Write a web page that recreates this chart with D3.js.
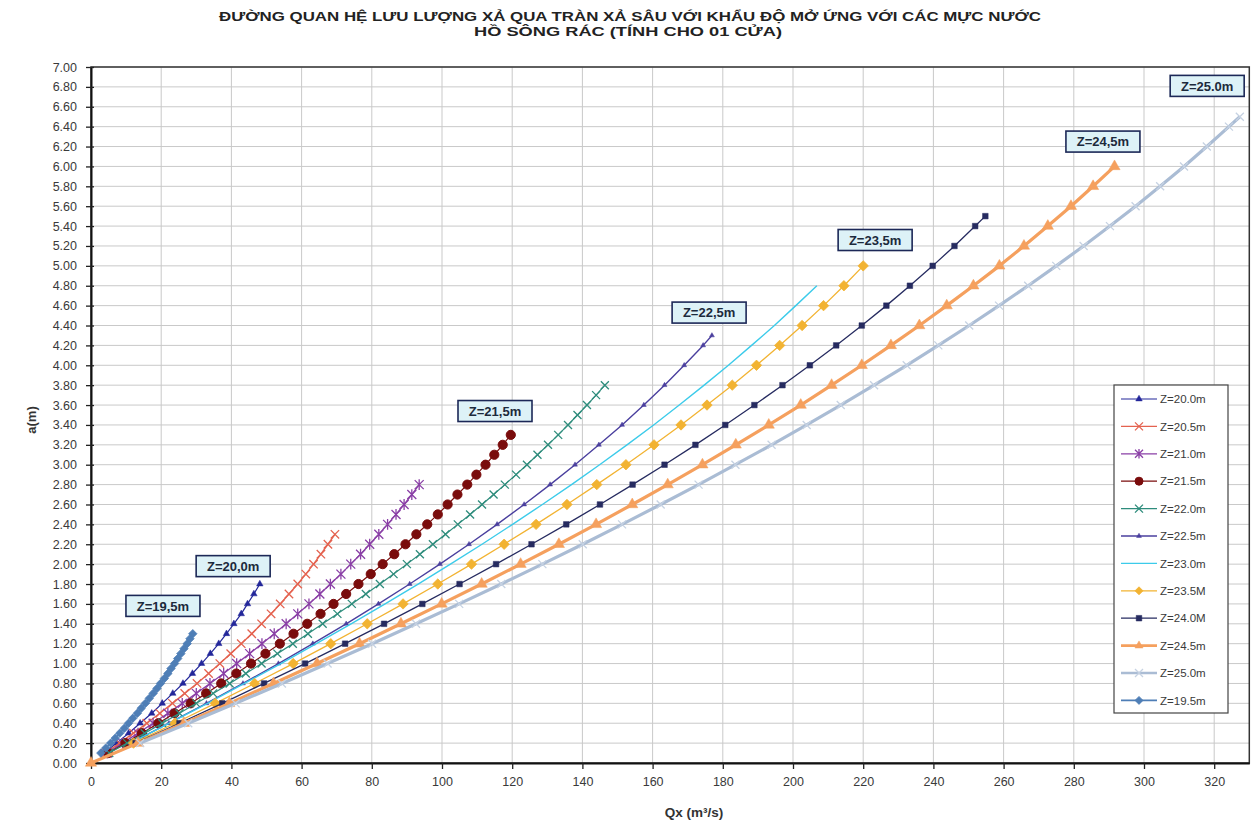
<!DOCTYPE html>
<html><head><meta charset="utf-8">
<script src="https://cdn.jsdelivr.net/npm/d3@7"></script>
<style>body{margin:0;background:#fff}svg{display:block}</style>
</head><body>
<svg id="c" width="1259" height="825"></svg>
<script>
// ---------- DATA ----------
const titleLines = ["ĐƯỜNG QUAN HỆ LƯU LƯỢNG XẢ QUA TRÀN XẢ SÂU VỚI KHẨU ĐỘ MỞ ỨNG VỚI CÁC MỰC NƯỚC",
                    "HỒ SÔNG RÁC (TÍNH CHO 01 CỬA)"];
const xLabel = "Qx (m³/s)";
const yLabel = "a(m)";
const xTicks = [0,20,40,60,80,100,120,140,160,180,200,220,240,260,280,300,320];
const yTicks = [0,0.2,0.4,0.6,0.8,1.0,1.2,1.4,1.6,1.8,2.0,2.2,2.4,2.6,2.8,3.0,3.2,3.4,3.6,3.8,4.0,4.2,4.4,4.6,4.8,5.0,5.2,5.4,5.6,5.8,6.0,6.2,6.4,6.6,6.8,7.0];

const legendLabels = ["Z=20.0m","Z=20.5m","Z=21.0m","Z=21.5m","Z=22.0m","Z=22.5m","Z=23.0m","Z=23.5M","Z=24.0M","Z=24.5m","Z=25.0m","Z=19.5m"];

const a200 = [0.1,0.2,0.3,0.4,0.5,0.6,0.7,0.8,0.9,1.0,1.1,1.2,1.3,1.4,1.5,1.6,1.7,1.8];
const q200 = [3.7,7.3,10.7,14.0,17.3,20.3,23.3,26.2,28.9,31.5,34.0,36.4,38.6,40.7,42.8,44.6,46.4,48.1];

const a205 = [0.1,0.2,0.3,0.4,0.5,0.6,0.7,0.8,0.9,1.0,1.1,1.2,1.3,1.4,1.5,1.6,1.7,1.8,1.9,2.0,2.1,2.2,2.3];
const q205 = [4.1,8.1,12.1,15.9,19.6,23.2,26.7,30.2,33.5,36.7,39.8,42.8,45.8,48.6,51.3,53.9,56.4,58.9,61.2,63.4,65.5,67.5,69.5];

const a210 = [0.1,0.2,0.3,0.4,0.5,0.6,0.7,0.8,0.9,1.0,1.1,1.2,1.3,1.4,1.5,1.6,1.7,1.8,1.9,2.0,2.1,2.2,2.3,2.4,2.5,2.6,2.7,2.8];
const q210 = [4.6,9.0,13.4,17.7,21.9,26.0,30.0,33.9,37.8,41.5,45.2,48.7,52.2,55.6,58.9,62.1,65.2,68.2,71.2,74.0,76.8,79.4,82.0,84.5,86.9,89.2,91.4,93.5];

const a215 = [0.1,0.2,0.3,0.4,0.5,0.6,0.7,0.8,0.9,1.0,1.1,1.2,1.3,1.4,1.5,1.6,1.7,1.8,1.9,2.0,2.1,2.2,2.3,2.4,2.5,2.6,2.7,2.8,2.9,3.0,3.1,3.2,3.3];
const q215 = [4.9,9.8,14.5,19.2,23.8,28.4,32.8,37.1,41.4,45.6,49.7,53.8,57.7,61.6,65.4,69.1,72.7,76.2,79.7,83.1,86.4,89.6,92.7,95.8,98.8,101.6,104.4,107.2,109.8,112.4,114.9,117.3,119.6];

const a220 = [0.1,0.2,0.3,0.4,0.5,0.6,0.7,0.8,0.9,1.0,1.1,1.2,1.3,1.4,1.5,1.6,1.7,1.8,1.9,2.0,2.1,2.2,2.3,2.4,2.5,2.6,2.7,2.8,2.9,3.0,3.1,3.2,3.3,3.4,3.5,3.6,3.7,3.8];
const q220 = [5.2,10.3,15.3,20.3,25.2,30.0,34.8,39.5,44.1,48.6,53.1,57.5,61.8,66.0,70.2,74.3,78.3,82.3,86.2,90.0,93.7,97.4,101.0,104.5,108.0,111.4,114.7,117.9,121.1,124.2,127.2,130.2,133.1,135.9,138.6,141.3,143.9,146.4];

const a225 = [0.2,0.4,0.6,0.8,1.0,1.2,1.4,1.6,1.8,2.0,2.2,2.4,2.6,2.8,3.0,3.2,3.4,3.6,3.8,4.0,4.2,4.3];
const q225 = [11.3,22.2,32.9,43.3,53.4,63.2,72.7,81.9,90.8,99.4,107.7,115.7,123.4,130.8,137.9,144.7,151.3,157.5,163.4,169.0,174.4,176.9];

const a230 = [0.2,0.4,0.6,0.8,1.0,1.2,1.4,1.6,1.8,2.0,2.2,2.4,2.6,2.8,3.0,3.2,3.4,3.6,3.8,4.0,4.2,4.4,4.6,4.8];
const q230 = [11.3,22.3,33.2,43.7,54.1,64.2,74.1,83.8,93.2,102.4,111.4,120.1,128.6,136.9,144.9,152.7,160.3,167.6,174.7,181.6,188.2,194.7,200.8,206.8];

const a235 = [0.2,0.4,0.6,0.8,1.0,1.2,1.4,1.6,1.8,2.0,2.2,2.4,2.6,2.8,3.0,3.2,3.4,3.6,3.8,4.0,4.2,4.4,4.6,4.8,5.0];
const q235 = [12.1,23.9,35.4,46.6,57.6,68.3,78.7,88.9,98.8,108.4,117.7,126.8,135.6,144.1,152.4,160.4,168.1,175.5,182.7,189.6,196.2,202.6,208.7,214.5,220.0];

const a240 = [0.2,0.4,0.6,0.8,1.0,1.2,1.4,1.6,1.8,2.0,2.2,2.4,2.6,2.8,3.0,3.2,3.4,3.6,3.8,4.0,4.2,4.4,4.6,4.8,5.0,5.2,5.4,5.5];
const q240 = [12.7,25.2,37.4,49.3,61.0,72.4,83.5,94.4,105.0,115.4,125.5,135.4,145.0,154.3,163.4,172.2,180.7,189.0,197.0,204.8,212.3,219.6,226.6,233.3,239.8,246.0,251.9,254.8];

const a245 = [0,0.2,0.4,0.6,0.8,1.0,1.2,1.4,1.6,1.8,2.0,2.2,2.4,2.6,2.8,3.0,3.2,3.4,3.6,3.8,4.0,4.2,4.4,4.6,4.8,5.0,5.2,5.4,5.6,5.8,6.0];
const q245 = [0,13.4,26.5,39.4,52.0,64.4,76.5,88.3,99.9,111.3,122.4,133.3,143.9,154.2,164.3,174.2,183.7,193.1,202.2,211.0,219.6,227.9,236.0,243.8,251.4,258.8,265.8,272.6,279.2,285.5,291.6];

const a250 = [0.2,0.4,0.6,0.8,1.0,1.2,1.4,1.6,1.8,2.0,2.2,2.4,2.6,2.8,3.0,3.2,3.4,3.6,3.8,4.0,4.2,4.4,4.6,4.8,5.0,5.2,5.4,5.6,5.8,6.0,6.2,6.4,6.5];
const q250 = [14.0,27.7,41.2,54.4,67.4,80.1,92.6,104.9,116.9,128.6,140.1,151.3,162.3,173.1,183.6,193.9,203.9,213.6,223.1,232.4,241.4,250.2,258.7,267.0,275.0,282.8,290.3,297.6,304.6,311.4,317.9,324.2,327.3];

const a195 = [0.10,0.15,0.20,0.25,0.30,0.35,0.40,0.45,0.50,0.55,0.60,0.65,0.70,0.75,0.80,0.85,0.90,0.95,1.00,1.05,1.10,1.15,1.20,1.25,1.30];
const q195 = [2.8,4.2,5.6,6.9,8.2,9.5,10.7,11.9,13.2,14.3,15.5,16.6,17.7,18.8,19.8,20.9,21.9,22.8,23.8,24.7,25.6,26.5,27.4,28.2,29.0];

const annoText = ["Z=19,5m","Z=20,0m","Z=21,5m","Z=22,5m","Z=23,5m","Z=24,5m","Z=25.0m"];
const annoQ = [20.5,40.5,115.1,176.1,223.4,288.3,318.0];
const annoA = [1.58,1.98,3.54,4.53,5.26,6.25,6.81];

// ---------- STYLE ----------
const styles = [
  {color:"#23279A", w:1.2, m:"triangle", ms:3.2},
  {color:"#E4624F", w:1.4, m:"x", ms:4.2},
  {color:"#8A3FA6", w:1.3, m:"star", ms:4.5},
  {color:"#7A0C0C", w:1.2, m:"circle", ms:4.6},
  {color:"#2E8C7C", w:1.2, m:"x", ms:4},
  {color:"#4A3F9E", w:1.4, m:"triangle", ms:2.4},
  {color:"#3CCBEA", w:1.4, m:"none", ms:0},
  {color:"#F2B332", w:1.3, m:"diamond", ms:5.2},
  {color:"#262B60", w:1.3, m:"square", ms:2.8},
  {color:"#F5A05E", w:3.2, m:"triangle", ms:5.5},
  {color:"#AABCD4", w:3.2, m:"xlight", ms:4},
  {color:"#4E7EB6", w:1.6, m:"diamond", ms:4.2}
];
const aArr = [a200,a205,a210,a215,a220,a225,a230,a235,a240,a245,a250,a195];
const qArr = [q200,q205,q210,q215,q220,q225,q230,q235,q240,q245,q250,q195];

// ---------- CHART ----------
const svg = d3.select("#c");
const x = d3.scaleLinear().domain([0,330]).range([91,1249.3]);
const y = d3.scaleLinear().domain([0,7]).range([763,67]);
const FONT = "'Liberation Sans', Arial, sans-serif";

svg.append("rect").attr("width",1259).attr("height",825).attr("fill","#fff");

// gridlines
const grid = svg.append("g");
grid.selectAll(".hg").data(yTicks.filter(d=>d>0)).join("line")
  .attr("x1",x(0)).attr("x2",x(330)).attr("y1",d=>y(d)).attr("y2",d=>y(d))
  .attr("stroke","#C9C9C9").attr("stroke-width",1);
grid.selectAll(".vg").data(xTicks.filter(d=>d>0)).join("line")
  .attr("x1",d=>x(d)).attr("x2",d=>x(d)).attr("y1",y(0)).attr("y2",y(7))
  .attr("stroke","#C9C9C9").attr("stroke-width",1);

// plot frame
svg.append("rect").attr("x",x(0)).attr("y",y(7)).attr("width",x(330)-x(0)).attr("height",y(0)-y(7))
  .attr("fill","none").attr("stroke","#333").attr("stroke-width",1.5);

// axes
const xAxis = svg.append("g").attr("transform",`translate(0,${y(0)})`)
  .call(d3.axisBottom(x).tickValues(xTicks).tickSize(6).tickPadding(8).tickSizeOuter(0));
const yAxis = svg.append("g").attr("transform",`translate(${x(0)},0)`)
  .call(d3.axisLeft(y).tickValues(yTicks).tickFormat(d3.format(".2f")).tickSize(5).tickPadding(9).tickSizeOuter(0));
[xAxis,yAxis].forEach(g=>{
  g.select(".domain").attr("stroke","#111").attr("stroke-width",2);
  g.selectAll(".tick line").attr("stroke","#222").attr("stroke-width",1.3);
  g.selectAll(".tick text").attr("fill","#3a3a3a").style("font-family",FONT).style("font-size","12.5px");
});
yAxis.selectAll(".tick line").attr("x1",3);

// markers
function marker(g, type, s, color){
  if(type==="none") return;
  if(type==="circle"){ g.append("circle").attr("r",s).attr("fill",color).attr("stroke",color); return; }
  if(type==="x" || type==="xlight"){
    g.append("path").attr("d",`M${-s},${-s}L${s},${s}M${-s},${s}L${s},${-s}`)
      .attr("stroke", type==="xlight" ? "#C6D2E2" : color).attr("stroke-width",1.3).attr("fill","none"); return; }
  if(type==="star"){
    g.append("path").attr("d",`M${-s},${-s}L${s},${s}M${-s},${s}L${s},${-s}M0,${-s*1.2}L0,${s*1.2}`)
      .attr("stroke",color).attr("stroke-width",1.3).attr("fill","none"); return; }
  if(type==="diamond"){
    g.append("path").attr("d",`M0,${-s}L${s},0L0,${s}L${-s},0Z`).attr("fill",color).attr("stroke",color).attr("stroke-width",0.8).attr("stroke-linejoin","round"); return; }
  let sym = type==="triangle" ? d3.symbolTriangle : d3.symbolSquare;
  let area = type==="triangle" ? s*s*1.8 : s*s*4;
  g.append("path").attr("d",d3.symbol().type(sym).size(area)()).attr("fill",color).attr("stroke",color).attr("stroke-width",0.5);
}

const line = d3.line().x(d=>x(d[0])).y(d=>y(d[1]));
aArr.forEach((aa,i)=>{
  const st = styles[i];
  const pts = aa.map((a,j)=>[qArr[i][j],a]);
  const g = svg.append("g");
  g.append("path").datum(pts).attr("d",line).attr("fill","none")
    .attr("stroke",st.color).attr("stroke-width",st.w).attr("stroke-linejoin","round");
  pts.forEach(p=>{
    const mg = g.append("g").attr("transform",`translate(${x(p[0])},${y(p[1])})`);
    marker(mg, st.m, st.ms, st.color);
  });
});

// annotations
annoText.forEach((t,i)=>{
  const cx = x(annoQ[i]), cy = y(annoA[i]);
  const g = svg.append("g").attr("transform",`translate(${cx},${cy})`);
  g.append("rect").attr("x",-37).attr("y",-10.5).attr("width",74).attr("height",21)
    .attr("fill","#DDF2F7").attr("stroke","#1C2857").attr("stroke-width",1.6);
  g.append("text").attr("text-anchor","middle").attr("dy","0.36em").text(t)
    .style("font-family",FONT).style("font-size","13px").style("font-weight","bold").attr("fill","#1c2a3c");
});

// legend
const lg = svg.append("g");
lg.append("rect").attr("x",1114).attr("y",385).attr("width",114).attr("height",328)
  .attr("fill","#fff").attr("stroke","#444").attr("stroke-width",1.2);
legendLabels.forEach((lab,i)=>{
  const yy = 399 + i*27.4;
  const st = styles[i];
  const g = lg.append("g").attr("transform",`translate(0,${yy})`);
  g.append("line").attr("x1",1121).attr("x2",1157).attr("y1",0).attr("y2",0)
    .attr("stroke",st.color).attr("stroke-width",Math.min(st.w,2.6));
  const mg = g.append("g").attr("transform","translate(1139,0)");
  marker(mg, st.m, Math.min(st.ms,4), st.color);
  g.append("text").attr("x",1160).attr("dy","0.36em").text(lab)
    .style("font-family",FONT).style("font-size","11.5px").attr("fill","#3a3a3a");
});

// titles
svg.append("text").attr("x",630).attr("y",21).attr("text-anchor","middle")
  .attr("textLength",822).attr("lengthAdjust","spacingAndGlyphs")
  .style("font-family","'Liberation Sans Narrow', 'Liberation Sans', Arial, sans-serif")
  .style("font-size","12.5px").style("font-weight","bold").attr("fill","#222").text(titleLines[0]);
svg.append("text").attr("x",628).attr("y",36).attr("text-anchor","middle")
  .attr("textLength",308).attr("lengthAdjust","spacingAndGlyphs")
  .style("font-family","'Liberation Sans Narrow', 'Liberation Sans', Arial, sans-serif")
  .style("font-size","12.5px").style("font-weight","bold").attr("fill","#222").text(titleLines[1]);

svg.append("text").attr("transform","translate(36,420) rotate(-90)").attr("text-anchor","middle")
  .style("font-family",FONT).style("font-size","13px").style("font-weight","bold").attr("fill","#333").text(yLabel);
svg.append("text").attr("x",694).attr("y",817).attr("text-anchor","middle")
  .style("font-family",FONT).style("font-size","13.5px").style("font-weight","bold").attr("fill","#333").text(xLabel);
</script>
</body></html>
